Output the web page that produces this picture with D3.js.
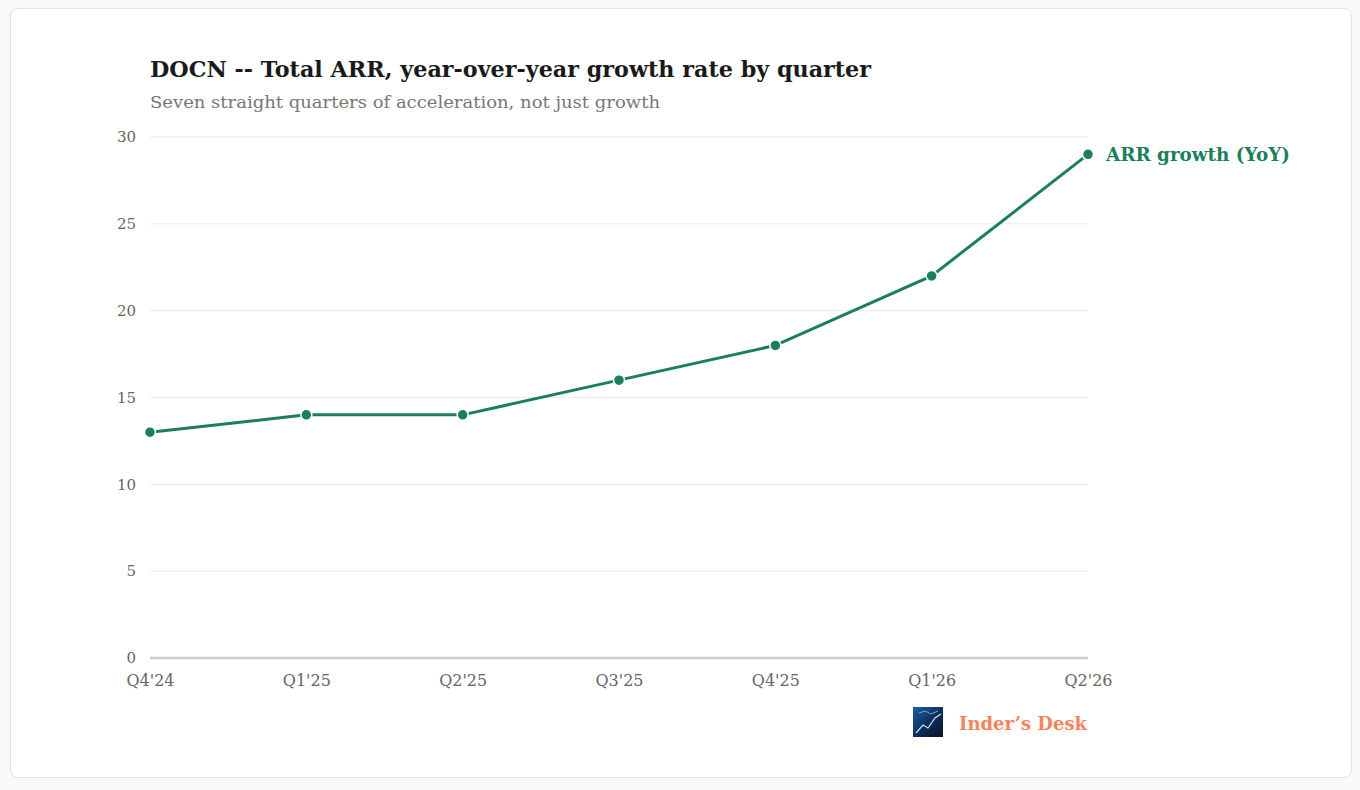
<!DOCTYPE html>
<html>
<head>
<meta charset="utf-8">
<script src="https://cdn.jsdelivr.net/npm/d3@7"></script>
<style>
  html, body { margin: 0; padding: 0; background: #f9f9f9; }
  #card {
    position: absolute; left: 10px; top: 8px; width: 1340px; height: 768px;
    background: #fff; border: 1px solid #e2e2e2; border-radius: 8px;
  }
  svg { position: absolute; left: 0; top: 0; }
</style>
</head>
<body>
<div id="card"></div>
<div id="vis"></div>
<script>
// Chart data
const quarters = ["Q4'24", "Q1'25", "Q2'25", "Q3'25", "Q4'25", "Q1'26", "Q2'26"];
const arrGrowth = [13, 14, 14, 16, 18, 22, 29];
const yTicks = [0, 5, 10, 15, 20, 25, 30];

const title = "DOCN -- Total ARR, year-over-year growth rate by quarter";
const subtitle = "Seven straight quarters of acceleration, not just growth";
const seriesName = "ARR growth (YoY)";
const brand = "Inder\u2019s Desk";

const green = "#1b7f5b";
const serif = "'DejaVu Serif', 'Liberation Serif', serif";

const margin = { top: 137, left: 150 };
const width = 938;
const height = 521;

const svg = d3.select("#vis")
  .append("svg")
  .attr("width", 1360)
  .attr("height", 790);

// titles
svg.append("text")
  .attr("x", 150).attr("y", 77)
  .attr("font-family", serif)
  .attr("font-weight", "bold")
  .attr("font-size", 22)
  .attr("fill", "#1a1a1a")
  .attr("textLength", 721)
  .attr("lengthAdjust", "spacingAndGlyphs")
  .text(title);

svg.append("text")
  .attr("x", 150).attr("y", 108)
  .attr("font-family", serif)
  .attr("font-size", 17)
  .attr("fill", "#777")
  .attr("textLength", 510)
  .attr("lengthAdjust", "spacingAndGlyphs")
  .text(subtitle);

const g = svg.append("g")
  .attr("transform", `translate(${margin.left},${margin.top})`);

const xScale = d3.scalePoint()
  .domain(quarters)
  .range([0, width]);

const yScale = d3.scaleLinear()
  .domain([0, 30])
  .range([height, 0]);

// grid lines
g.selectAll(".grid")
  .data(yTicks.filter(d => d !== 0))
  .enter()
  .append("line")
  .attr("class", "grid")
  .attr("x1", 0).attr("x2", width)
  .attr("y1", d => yScale(d)).attr("y2", d => yScale(d))
  .attr("stroke", "#ebebeb")
  .attr("stroke-width", 1);

// baseline
g.append("line")
  .attr("x1", 0).attr("x2", width)
  .attr("y1", yScale(0)).attr("y2", yScale(0))
  .attr("stroke", "#cdcdcd")
  .attr("stroke-width", 2.5);

// y axis labels
const yAxis = d3.axisLeft(yScale).tickValues(yTicks).tickSize(0).tickPadding(14);
g.append("g")
  .call(yAxis)
  .call(s => s.select(".domain").remove())
  .call(s => s.selectAll("text")
    .attr("font-family", serif)
    .attr("font-size", 15)
    .attr("fill", "#666"));

// x axis labels
const xAxis = d3.axisBottom(xScale).tickSize(0).tickPadding(17);
g.append("g")
  .attr("transform", `translate(0,${height})`)
  .call(xAxis)
  .call(s => s.select(".domain").remove())
  .call(s => s.selectAll("text")
    .attr("font-family", serif)
    .attr("font-size", 16)
    .attr("fill", "#666"));

// line
g.append("path")
  .datum(arrGrowth)
  .attr("fill", "none")
  .attr("stroke", green)
  .attr("stroke-width", 3)
  .attr("d", d3.line()
    .x((d, i) => xScale(quarters[i]))
    .y(d => yScale(d)));

// points
g.selectAll(".pt")
  .data(arrGrowth)
  .enter()
  .append("circle")
  .attr("class", "pt")
  .attr("cx", (d, i) => xScale(quarters[i]))
  .attr("cy", d => yScale(d))
  .attr("r", 5.5)
  .attr("fill", green)
  .attr("stroke", "#fff")
  .attr("stroke-width", 1.5);

// end label
const last = arrGrowth.length - 1;
g.append("text")
  .attr("x", xScale(quarters[last]) + 18)
  .attr("y", yScale(arrGrowth[last]))
  .attr("dy", "0.35em")
  .attr("font-family", serif)
  .attr("font-weight", "bold")
  .attr("font-size", 18)
  .attr("fill", green)
  .attr("textLength", 184)
  .attr("lengthAdjust", "spacingAndGlyphs")
  .text(seriesName);

// brand mark
const defs = svg.append("defs");
const grad = defs.append("linearGradient")
  .attr("id", "logoGrad")
  .attr("x1", "0").attr("y1", "0").attr("x2", "1").attr("y2", "1");
grad.append("stop").attr("offset", "0").attr("stop-color", "#1d5fa8");
grad.append("stop").attr("offset", "0.5").attr("stop-color", "#0f2f5c");
grad.append("stop").attr("offset", "1").attr("stop-color", "#071426");

const logo = svg.append("g").attr("transform", "translate(913,707)");
logo.append("rect").attr("width", 30).attr("height", 30).attr("fill", "url(#logoGrad)");
logo.append("path")
  .attr("d", "M3,26 L10,18 L15,21 L22,11 L28,7")
  .attr("fill", "none").attr("stroke", "#bfe3ff").attr("stroke-width", 1.2);
logo.append("path")
  .attr("d", "M6,6 L12,4 L18,7 L25,4")
  .attr("fill", "none").attr("stroke", "#5fa8e8").attr("stroke-width", 1);

svg.append("text")
  .attr("x", 959).attr("y", 730)
  .attr("font-family", serif)
  .attr("font-weight", "bold")
  .attr("font-size", 19)
  .attr("fill", "#f5845a")
  .attr("textLength", 128)
  .attr("lengthAdjust", "spacingAndGlyphs")
  .text(brand);
</script>
</body>
</html>
